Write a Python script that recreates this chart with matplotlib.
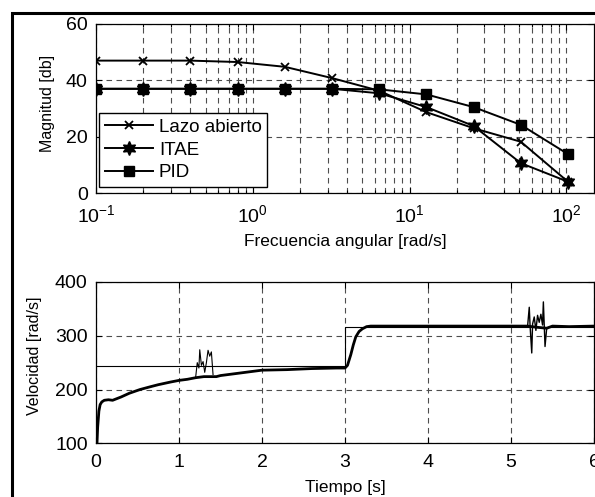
import matplotlib
matplotlib.use("Agg")
import matplotlib.pyplot as plt
from matplotlib.patches import Rectangle

plt.rcParams['font.family'] = ['Liberation Sans', 'DejaVu Sans']
plt.rcParams['mathtext.fontset'] = 'custom'
plt.rcParams['mathtext.rm'] = 'Liberation Sans'
plt.rcParams['mathtext.it'] = 'Liberation Sans'

# Bode magnitude data
freq = [0.1, 0.2, 0.4, 0.8, 1.6, 3.2, 6.4, 12.8, 25.6, 51.2, 102.4]
mag_lazo = [47, 47, 47, 46.5, 44.8, 40.8, 36.3, 28.7, 23, 18.2, 4]
mag_itae = [37, 37, 37, 37, 37, 37, 35.4, 30.5, 23.8, 10.6, 4]
mag_pid = [37, 37, 37, 37, 37, 37, 36.8, 35, 30.5, 24.2, 13.8]

# Velocity response data
t_ref = [0, 3, 3, 6]
v_ref = [243.5, 243.5, 316.5, 316.5]

t_vel = [0.012, 0.02, 0.035, 0.05, 0.07, 0.1, 0.15, 0.2, 0.3, 0.4, 0.53, 0.65,
         0.75, 0.9, 1.0, 1.1, 1.2, 1.3, 1.45, 1.5, 1.7, 1.9, 2.0, 2.3, 2.6,
         2.9, 3.0, 3.03, 3.07, 3.1, 3.13, 3.17, 3.21, 3.26, 3.31, 3.5, 4.0,
         4.5, 5.0, 5.2, 5.3, 5.43, 5.5, 5.7, 6.0]
v_vel = [100, 130, 160, 172, 177, 180, 181, 180, 186, 193, 200, 205,
         209, 214, 217, 219, 222, 224, 224, 226, 230, 234, 236, 237, 239,
         240, 240, 245, 265, 283, 298, 308, 313, 317, 318, 318, 318,
         318, 318, 318, 316, 314, 318, 317, 318]

t_spk1 = [1.2, 1.22, 1.24, 1.25, 1.27, 1.29, 1.31, 1.33, 1.35, 1.37, 1.39, 1.41]
v_spk1 = [222, 250, 240, 274, 245, 252, 232, 250, 273, 262, 270, 228]
t_spk2 = [5.2, 5.22, 5.23, 5.25, 5.26, 5.28, 5.30, 5.32, 5.34, 5.36, 5.38, 5.39, 5.41, 5.43]
v_spk2 = [318, 353, 318, 268, 322, 335, 310, 338, 325, 340, 320, 363, 280, 314]

W, H = 595, 497
fig = plt.figure(figsize=(W / 100, H / 100), dpi=100)

# outer frame (cropped on right/bottom)
fig.patches.append(Rectangle((12 / W, -0.1), 1.2, (H - 13) / H + 0.1,
                             transform=fig.transFigure, fill=False,
                             edgecolor='black', linewidth=2.2))

grid_kw = dict(color='0.3', linestyle=(0, (5, 4)), linewidth=0.8)

# top: bode
ax1 = fig.add_axes([96 / W, (H - 193) / H, 498 / W, 169 / H])
ax1.semilogx(freq, mag_lazo, '-', color='black', lw=1.4, marker='x', ms=5.5,
             mew=1.3, label='Lazo abierto')
ax1.semilogx(freq, mag_itae, '-', color='black', lw=1.4, marker=(6, 1, 0),
             ms=10, label='ITAE')
ax1.semilogx(freq, mag_pid, '-', color='black', lw=1.4, marker='s', ms=7,
             label='PID')
ax1.set_xlim(0.1, 150)
ax1.set_ylim(0, 60)
ax1.set_yticks([0, 20, 40, 60])
ax1.grid(True, which='major', **grid_kw)
ax1.grid(True, which='minor', axis='x', **grid_kw)
ax1.set_ylabel('Magnitud [db]', fontsize=11.5)
ax1.yaxis.set_label_coords(-0.082, 0.53)
ax1.set_xlabel('Frecuencia angular [rad/s]', fontsize=12.5, labelpad=6)
leg = ax1.legend(loc='lower left', bbox_to_anchor=(0.006, 0.035),
                 borderaxespad=0, fancybox=False, edgecolor='black',
                 framealpha=1, fontsize=13.5, numpoints=1, handlelength=2.6,
                 handletextpad=0.3, labelspacing=0.3, borderpad=0.3)
leg.get_frame().set_linewidth(1.0)

# bottom: velocity
ax2 = fig.add_axes([96 / W, (H - 443.3) / H, 498 / W, 161.3 / H])
ax2.plot(t_ref, v_ref, color='black', lw=0.8)
ax2.plot(t_spk1, v_spk1, color='black', lw=0.8)
ax2.plot(t_spk2, v_spk2, color='black', lw=1.0)
ax2.plot(t_vel, v_vel, color='black', lw=2.0)
ax2.set_xlim(0, 6)
ax2.set_ylim(100, 400)
ax2.set_xticks(range(0, 7))
ax2.set_yticks([100, 200, 300, 400])
ax2.grid(True, **grid_kw)
ax2.set_ylabel('Velocidad [rad/s]', fontsize=11.5)
ax2.yaxis.set_label_coords(-0.108, 0.54)
ax2.set_xlabel('Tiempo [s]', fontsize=12.5, labelpad=6)

for ax in (ax1, ax2):
    ax.set_axisbelow(True)
    ax.tick_params(which='both', direction='in', top=True, right=True,
                   labelsize=14, length=4, width=0.8, pad=6)
    ax.tick_params(which='minor', length=2)
    ax.tick_params(axis='x', pad=8)
    for s in ax.spines.values():
        s.set_linewidth(0.9)

plt.savefig('out.png', dpi=100)
